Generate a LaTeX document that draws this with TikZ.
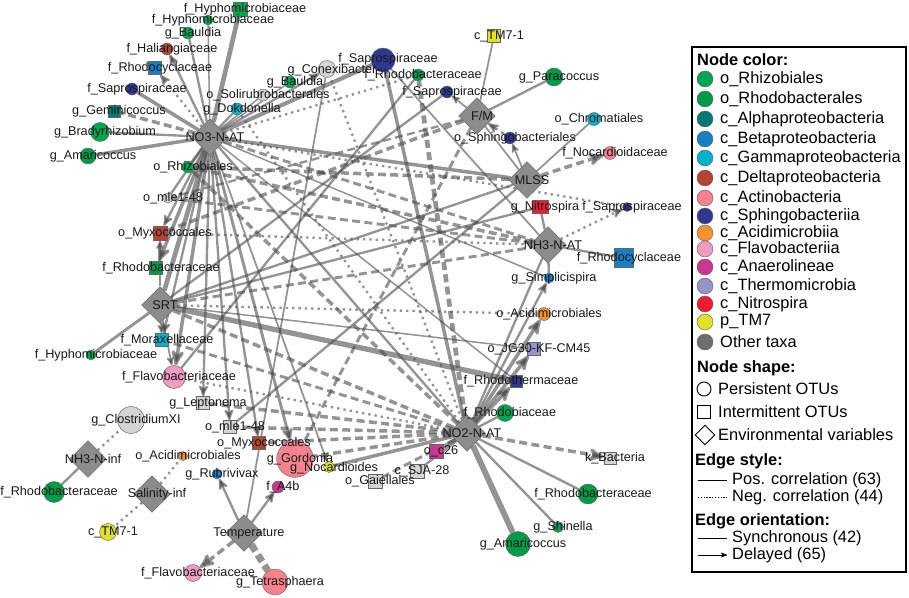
\documentclass[tikz,border=0pt]{standalone}
\usepackage{fontspec}
\setmainfont{Liberation Sans}
\usetikzlibrary{arrows,shapes.geometric,positioning}
\pgfdeclarelayer{background}
\pgfsetlayers{background,main}

\definecolor{rhizo}{RGB}{0,166,81}
\definecolor{rhodo}{RGB}{0,155,72}
\definecolor{alphaC}{RGB}{0,122,116}
\definecolor{betaC}{RGB}{21,128,196}
\definecolor{gammaC}{RGB}{0,178,206}
\definecolor{deltaC}{RGB}{180,68,50}
\definecolor{actinoC}{RGB}{245,130,140}
\definecolor{sphingoC}{RGB}{46,56,146}
\definecolor{acidiC}{RGB}{247,146,46}
\definecolor{flavoC}{RGB}{240,155,195}
\definecolor{anaeroC}{RGB}{200,55,145}
\definecolor{thermoC}{RGB}{150,148,200}
\definecolor{nitroC}{RGB}{236,28,46}
\definecolor{tmC}{RGB}{225,225,40}
\definecolor{otherC}{RGB}{110,110,112}
\definecolor{otherL}{RGB}{212,212,212}
\definecolor{envC}{RGB}{140,140,140}

\newcommand\taxfont{\fontsize{10.8}{12}\selectfont}
\newcommand\legfont{\fontsize{14}{16}\selectfont}

\tikzset{
>=stealth',
  pers/.style={
    circle,
    draw=black!60, thin,
    fill=#1,
    inner sep=0pt,
    minimum size=3.6mm},
  inter/.style={
    rectangle,
    draw=black!60, thin,
    fill=#1,
    inner sep=0pt,
    minimum size=3.9mm},
  envvar/.style={
    diamond,
    draw=black!60, thin,
    fill=envC,
    inner sep=0pt,
    minimum size=11mm},
  every label/.style={font=\taxfont, text=black!90, inner sep=0pt, xshift=1.5mm},
  link/.style={draw=black!70, opacity=0.6, line width=#1},
  neg/.style={dash pattern=on 2.4mm off 1.3mm},
  negdot/.style={dash pattern=on 0.7mm off 1.2mm},
  leghead/.style={font=\legfont\bfseries, anchor=west, inner sep=0pt},
  legtext/.style={font=\legfont, anchor=west, inner sep=0pt},
}

\begin{document}
\begin{tikzpicture}[x=0.03cm,y=-0.03cm]
\useasboundingbox (0,0) rectangle (909,598);

% environmental variables
\node[envvar, label=center:NO3-N-AT] (no3at) at (210,137) {};
\node[envvar, label=center:F/M] (fm) at (477,116) {};
\node[envvar, label=center:MLSS] (mlss) at (527,180) {};
\node[envvar, label=center:NH3-N-AT] (nh3at) at (548,245) {};
\node[envvar, label=center:SRT] (srt) at (160,305) {};
\node[envvar, label=center:NO2-N-AT] (no2at) at (467,433) {};
\node[envvar, label=center:NH3-N-inf] (nh3inf) at (88,459) {};
\node[envvar, label=center:Salinity-inf] (salinf) at (152,494) {};
\node[envvar, label=center:Temperature] (temp) at (244,533) {};

% taxa, top left
\node[inter=rhizo, minimum size=4.2mm, label=center:f\_Hyphomicrobiaceae] (hyphoA) at (240,9) {};
\node[pers=rhizo, minimum size=3mm, label=center:f\_Hyphomicrobiaceae] (hyphoB) at (208,20) {};
\node[pers=rhizo, label=center:g\_Bauldia] (bauldiaA) at (188,33) {};
\node[pers=deltaC, label=center:f\_Haliangiaceae] (halian) at (167,49) {};
\node[inter=betaC, label=center:f\_Rhodocyclaceae] (rhodocycA) at (155,68) {};
\node[pers=sphingoC, label=center:f\_Saprospiraceae] (saproA) at (132,89) {};
\node[inter=alphaC, minimum size=3.6mm, label=center:g\_Geminicoccus] (gemini) at (114,111) {};
\node[pers=rhizo, minimum size=5.7mm, label=center:g\_Bradyrhizobium] (bradyrh) at (100,132) {};
\node[pers=rhodo, minimum size=4.8mm, label=center:g\_Amaricoccus] (amaricA) at (88,156) {};
\node[pers=rhizo, label=center:o\_Rhizobiales] (rhizob) at (188,167) {};
\node[pers=otherL, label=center:o\_Solirubrobacterales] (solirub) at (263,95) {};
\node[pers=gammaC, label=center:g\_Dokdonella] (dokdon) at (237,109) {};
\node[pers=sphingoC, minimum size=7.2mm, label={[yshift=1pt]center:f\_Saprospiraceae}] (saproB) at (383,60) {};
\node[pers=otherL, minimum size=5.1mm, label={[yshift=-1pt]center:g\_Conexibacter}] (conexi) at (327,69) {};
\node[pers=rhizo, label=center:g\_Bauldia] (bauldiaB) at (290,82) {};
\node[pers=rhodo, label=center:f\_Rhodobacteraceae] (rhodobA) at (418,75) {};
\node[pers=sphingoC, label=center:f\_Saprospiraceae] (saproC) at (447,92) {};

% taxa, top right
\node[inter=tmC, label=center:c\_TM7-1] (tmA) at (494,36) {};
\node[pers=rhodo, minimum size=5.4mm, label=center:g\_Paracoccus] (paraco) at (554,77) {};
\node[pers=gammaC, minimum size=3.9mm, label=center:o\_Chromatiales] (chroma) at (594,119) {};
\node[pers=sphingoC, label=center:o\_Sphingobacteriales] (sphingo) at (510,138) {};
\node[pers=actinoC, minimum size=3.9mm, label=center:f\_Nocardioidaceae] (nocardA) at (610,153) {};
\node[inter=nitroC, minimum width=4.8mm, minimum height=3.9mm, label=center:g\_Nitrospira] (nitro) at (540,207) {};
\node[pers=sphingoC, minimum size=2.7mm, label=center:f\_Saprospiraceae] (saproD) at (627,207) {};
\node[inter=betaC, minimum size=5.7mm, label=center:f\_Rhodocyclaceae] (rhodocycB) at (624,258) {};
\node[pers=betaC, minimum size=3mm, label=center:g\_Simplicispira] (simplic) at (549,278) {};
\node[pers=acidiC, minimum size=3.9mm, label=center:o\_Acidimicrobiales] (acidiA) at (544,314) {};
\node[inter=thermoC, label=center:o\_JG30-KF-CM45] (jg30) at (534,349) {};
\node[inter=sphingoC, minimum size=3.6mm, label=center:f\_Rhodothermaceae] (rhodoth) at (516,381) {};

% taxa, bottom right
\node[pers=actinoC, minimum size=11mm, label=center:g\_Gordonia] (gordonia) at (295,459) {};
\node[pers=rhizo, minimum size=5.1mm, label=center:f\_Rhodobiaceae] (rhodobi) at (505,413) {};
\node[inter=otherL, minimum size=3.6mm, label=center:k\_Bacteria] (bacteria) at (610,458) {};
\node[pers=rhodo, minimum size=6mm, label=center:f\_Rhodobacteraceae] (rhodobB) at (588,494) {};
\node[pers=rhizo, minimum size=3.3mm, label=center:g\_Shinella] (shinella) at (558,527) {};
\node[pers=rhodo, minimum size=7.5mm, label=center:g\_Amaricoccus] (amaricB) at (518,544) {};
\node[inter=anaeroC, minimum size=4.2mm, label=center:o\_c26] (oc26) at (436,451) {};
\node[inter=otherL, minimum size=4.2mm, label=center:c\_SJA-28] (sja28) at (417,471) {};
\node[inter=otherL, minimum size=4.2mm, label=center:o\_Gaiellales] (gaiell) at (375,481) {};
\node[pers=tmC, minimum size=3.3mm, label={[yshift=-1pt]center:g\_Nocardioides}] (nocardB) at (329,467) {};

% taxa, middle left
\node[inter=deltaC, label=center:o\_Myxococcales] (myxoA) at (259,443) {};
\node[inter=otherL, label=center:o\_mle1-48] (mleA) at (230,427) {};
\node[inter=otherL, label=center:g\_Leptonema] (leptonema) at (203,403) {};
\node[pers=flavoC, minimum size=6.9mm, label=center:f\_Flavobacteriaceae] (flavoA) at (174,377) {};
\node[inter=gammaC, label=center:f\_Moraxellaceae] (moraxel) at (162,340) {};
\node[pers=rhizo, minimum size=3mm, label=center:f\_Hyphomicrobiaceae] (hyphoC) at (91,355) {};
\node[inter=rhodo, label=center:f\_Rhodobacteraceae] (rhodobC) at (156,268) {};
\node[inter=deltaC, minimum size=4.2mm, label=center:o\_Myxococcales] (myxoB) at (160,233) {};
\node[pers=otherL, minimum size=3mm, label=center:o\_mle1-48] (mleB) at (168,198) {};

% taxa, bottom left
\node[pers=otherL, minimum size=8.1mm, label=center:g\_ClostridiumXI] (clostr) at (131,420) {};
\node[pers=rhodo, minimum size=6.3mm, label=center:f\_Rhodobacteraceae] (rhodobD) at (54,492) {};
\node[pers=acidiC, minimum size=2.7mm, label=center:o\_Acidimicrobiales] (acidiB) at (183,456) {};
\node[pers=betaC, minimum size=3mm, label=center:g\_Rubrivivax] (rubriv) at (217,474) {};
\node[pers=tmC, minimum size=5.1mm, label=center:c\_TM7-1] (tmB) at (108,532) {};
\node[pers=anaeroC, label=center:f\_A4b] (a4b) at (278,487) {};
\node[pers=flavoC, minimum size=5.1mm, label=center:f\_Flavobacteriaceae] (flavoB) at (193,573) {};
\node[pers=actinoC, minimum size=7.8mm, label=center:g\_Tetrasphaera] (tetras) at (275,582) {};

\begin{pgfonlayer}{background}
% NO3-N-AT
\draw[link=4pt] (no3at) -- (hyphoA);
\draw[link=1.3pt] (no3at) -- (hyphoB);
\draw[link=2pt] (no3at) -- (bauldiaA);
\draw[link=2pt,->] (no3at) -- (halian);
\draw[link=2pt,negdot,->] (no3at) -- (rhodocycA);
\draw[link=3pt] (no3at) -- (saproA);
\draw[link=3pt,neg] (no3at) -- (gemini);
\draw[link=2pt] (no3at) -- (bradyrh);
\draw[link=3pt] (no3at) -- (amaricA);
\draw[link=2pt] (no3at) -- (rhizob);
\draw[link=2pt] (no3at) -- (dokdon);
\draw[link=1.3pt] (no3at) -- (solirub);
\draw[link=2pt,->] (no3at) -- (conexi);
\draw[link=3.5pt] (no3at) -- (saproB);
\draw[link=1.3pt] (no3at) -- (bauldiaB);
\draw[link=2pt,negdot] (no3at) -- (rhodobA);
\draw[link=3pt] (no3at) -- (mlss);
\draw[link=2pt,negdot] (no3at) -- (saproD);
\draw[link=1.3pt] (no3at) -- (simplic);
\draw[link=2pt] (no3at) -- (mleB);
\draw[link=2pt,->] (no3at) -- (myxoB);
\draw[link=3pt,->] (no3at) -- (rhodobC);
\draw[link=4pt] (no3at) -- (srt);
\draw[link=2pt,->] (no3at) -- (moraxel);
\draw[link=3pt,->] (no3at) -- (flavoA);
\draw[link=2pt,->] (no3at) -- (leptonema);
\draw[link=2pt,->] (no3at) -- (mleA);
\draw[link=2pt,->] (no3at) -- (myxoA);
\draw[link=2.5pt,->] (no3at) -- (gordonia);
\draw[link=1.5pt,->] (no3at) -- (nocardB);
\draw[link=2pt] (no3at) -- (no2at);
\draw[link=1.3pt] (no3at) -- (rhodoth);
\draw[link=2.5pt,neg] (no3at) -- (nh3at);
% SRT
\draw[link=2.5pt] (srt) -- (hyphoC);
\draw[link=1.5pt,->] (srt) -- (moraxel);
\draw[link=1.5pt,->] (srt) -- (flavoA);
\draw[link=4.5pt] (srt) -- (rhodoth);
\draw[link=1.3pt] (srt) -- (jg30);
\draw[link=3pt,neg] (srt) -- (no2at);
\draw[link=2pt] (srt) -- (nitro);
\draw[link=2pt] (srt) -- (saproC);
\draw[link=2.5pt,neg] (srt) -- (nh3at);
\draw[link=1.5pt,->] (srt) -- (myxoB);
\draw[link=2pt,negdot] (srt) -- (acidiA);
% NO2-N-AT
\draw[link=5pt] (no2at) -- (amaricB);
\draw[link=2pt] (no2at) -- (shinella);
\draw[link=2pt] (no2at) -- (rhodobB);
\draw[link=3pt,neg,->] (no2at) -- (bacteria);
\draw[link=2pt] (no2at) -- (rhodobi);
\draw[link=3pt,->] (no2at) -- (rhodoth);
\draw[link=3pt,->] (no2at) -- (jg30);
\draw[link=3pt,->] (no2at) -- (acidiA);
\draw[link=2pt,->] (no2at) -- (simplic);
\draw[link=2pt] (no2at) -- (nh3at);
\draw[link=3pt] (no2at) -- (oc26);
\draw[link=2pt] (no2at) -- (sja28);
\draw[link=2.5pt,neg] (no2at) -- (gaiell);
\draw[link=3pt] (no2at) -- (nocardB);
\draw[link=3pt,neg] (no2at) -- (gordonia);
\draw[link=3pt,neg] (no2at) -- (myxoA);
\draw[link=3pt,neg] (no2at) -- (mleA);
\draw[link=3pt,neg] (no2at) -- (leptonema);
\draw[link=2pt,negdot] (no2at) -- (flavoA);
\draw[link=2.5pt,neg] (no2at) -- (moraxel);
\draw[link=4pt,neg] (no2at) -- (rhodobA);
\draw[link=3pt] (no2at) -- (saproB);
\draw[link=2pt,negdot] (no2at) -- (conexi);
\draw[link=3pt,neg] (no2at) -- (rhizob);
\draw[link=2pt,negdot] (no2at) -- (dokdon);
% NH3-N-AT
\draw[link=2pt] (nh3at) -- (nitro);
\draw[link=2pt,negdot,->] (nh3at) -- (saproD);
\draw[link=2pt] (nh3at) -- (rhodocycB);
\draw[link=2pt] (nh3at) -- (simplic);
\draw[link=3pt,neg] (nh3at) -- (rhizob);
\draw[link=2pt,negdot] (nh3at) -- (myxoB);
\draw[link=2.5pt,neg] (nh3at) -- (mleB);
\draw[link=1.5pt] (nh3at) -- (saproB);
% MLSS
\draw[link=1.5pt,->] (mlss) -- (sphingo);
\draw[link=1.5pt] (mlss) -- (chroma);
\draw[link=3pt,neg,->] (mlss) -- (nocardA);
\draw[link=1.5pt] (mlss) -- (fm);
\draw[link=3pt,neg] (mlss) -- (rhizob);
\draw[link=2pt] (mlss) -- (srt);
\draw[link=2pt] (mlss) -- (mleA);
% F/M
\draw[link=1.5pt] (fm) -- (tmA);
\draw[link=2pt] (fm) -- (paraco);
\draw[link=1.5pt,->] (fm) -- (saproC);
\draw[link=2pt,neg,<-] (fm) -- (sphingo);
\draw[link=3pt,neg] (fm) -- (myxoB);
\draw[link=2pt,neg] (fm) -- (mleB);
\draw[link=2.5pt,neg] (fm) -- (gordonia);
% cross links
\draw[link=2pt] (flavoA) -- (rhodobA);
% inflow and temperature
\draw[link=2pt,negdot] (nh3inf) -- (clostr);
\draw[link=2pt] (nh3inf) -- (rhodobD);
\draw[link=2pt,negdot] (salinf) -- (acidiB);
\draw[link=2pt,negdot] (salinf) -- (tmB);
\draw[link=2pt,->] (temp) -- (rubriv);
\draw[link=2pt,->] (temp) -- (a4b);
\draw[link=3pt,neg,->] (temp) -- (flavoB);
\draw[link=6pt,neg] (temp) -- (tetras);
\draw[link=1.5pt] (temp) -- (conexi);
\end{pgfonlayer}

% legend
\draw[line width=1.5pt] (692,47) rectangle (906,572);
\node[leghead] (hdcolor) at (697,60) {Node color:};
\foreach \y/\col/\txt in {79/rhizo/o\_Rhizobiales, 99/rhodo/o\_Rhodobacterales,
    119/alphaC/c\_Alphaproteobacteria, 139/betaC/c\_Betaproteobacteria,
    158/gammaC/c\_Gammaproteobacteria, 178/deltaC/c\_Deltaproteobacteria,
    198/actinoC/c\_Actinobacteria, 216/sphingoC/c\_Sphingobacteriia,
    233/acidiC/c\_Acidimicrobiia, 249/flavoC/c\_Flavobacteriia,
    267/anaeroC/c\_Anaerolineae, 286/thermoC/c\_Thermomicrobia,
    304/nitroC/c\_Nitrospira, 322/tmC/p\_TM7, 342/otherC/Other taxa}{
  \node[pers=\col, minimum size=4.8mm] at (705,\y) {};
  \node[legtext] at (720,\y) {\txt};
}
\node[leghead] (hdshape) at (697,368) {Node shape:};
\node[circle, draw=black, thick, minimum size=4.2mm, inner sep=0pt] (lgcirc) at (704,389) {};
\node[legtext] at (718,389) {Persistent OTUs};
\node[rectangle, draw=black, thick, minimum size=3.9mm, inner sep=0pt] (lgsq) at (704,412) {};
\node[legtext] at (718,412) {Intermittent OTUs};
\node[diamond, draw=black, thick, minimum size=6mm, inner sep=0pt] (lgdia) at (705,435) {};
\node[legtext] at (718,435) {Environmental variables};
\node[leghead] (hdstyle) at (695,461) {Edge style:};
\draw[thick] (698,480) -- (727,480);
\node[legtext] at (732,480) {Pos. correlation (63)};
\draw[thick, dash pattern=on 1.2pt off 1.2pt] (698,497) -- (727,497);
\node[legtext] at (732,497) {Neg. correlation (44)};
\node[leghead] (hdorient) at (695,521) {Edge orientation:};
\draw[thick] (698,538) -- (727,538);
\node[legtext] at (732,538) {Synchronous (42)};
\draw[thick,->] (698,555) -- (727,555);
\node[legtext] at (732,555) {Delayed (65)};
\end{tikzpicture}
\end{document}
